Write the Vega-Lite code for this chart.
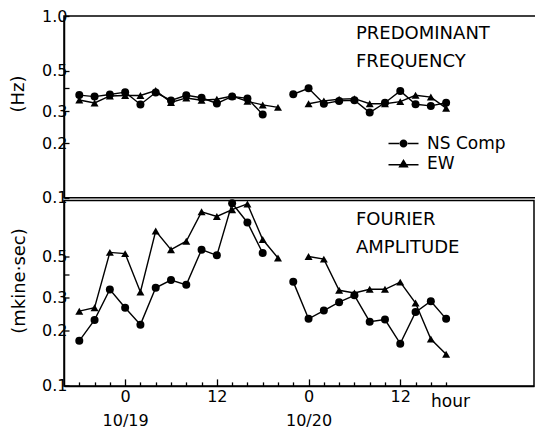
{
  "$schema": "https://vega.github.io/schema/vega-lite/v6.json",
  "padding": {"left": 8, "top": 7, "right": 0, "bottom": 0},
  "bounds": "flush",
  "spacing": 2.5,
  "background": "white",
  "config": {
    "font": "DejaVu Sans",
    "view": {"stroke": "black", "strokeWidth": 1.5},
    "axis": {"domainColor": "black", "domainWidth": 1.5, "tickColor": "black", "tickWidth": 1.3, "labelColor": "black", "titleColor": "black", "grid": false, "labelFontSize": 16, "titleFontSize": 18, "titleFontWeight": "normal"},
    "title": {"color": "black"},
    "legend": {"labelColor": "black"}
  },
  "resolve": {"scale": {"x": "independent", "y": "independent", "shape": "independent"}, "legend": {"shape": "independent"}},
  "datasets": {
    "d": [
      {"p": "F", "s": "NS Comp", "g": 1, "h": -6, "v": 0.367},
      {"p": "F", "s": "NS Comp", "g": 1, "h": -4, "v": 0.360},
      {"p": "F", "s": "NS Comp", "g": 1, "h": -2, "v": 0.370},
      {"p": "F", "s": "NS Comp", "g": 1, "h": 0, "v": 0.381},
      {"p": "F", "s": "NS Comp", "g": 1, "h": 2, "v": 0.326},
      {"p": "F", "s": "NS Comp", "g": 1, "h": 4, "v": 0.379},
      {"p": "F", "s": "NS Comp", "g": 1, "h": 6, "v": 0.343},
      {"p": "F", "s": "NS Comp", "g": 1, "h": 8, "v": 0.366},
      {"p": "F", "s": "NS Comp", "g": 1, "h": 10, "v": 0.355},
      {"p": "F", "s": "NS Comp", "g": 1, "h": 12, "v": 0.330},
      {"p": "F", "s": "NS Comp", "g": 1, "h": 14, "v": 0.361},
      {"p": "F", "s": "NS Comp", "g": 1, "h": 16, "v": 0.352},
      {"p": "F", "s": "NS Comp", "g": 1, "h": 18, "v": 0.287},
      {"p": "F", "s": "NS Comp", "g": 2, "h": 22, "v": 0.371},
      {"p": "F", "s": "NS Comp", "g": 2, "h": 24, "v": 0.400},
      {"p": "F", "s": "NS Comp", "g": 2, "h": 26, "v": 0.329},
      {"p": "F", "s": "NS Comp", "g": 2, "h": 28, "v": 0.341},
      {"p": "F", "s": "NS Comp", "g": 2, "h": 30, "v": 0.344},
      {"p": "F", "s": "NS Comp", "g": 2, "h": 32, "v": 0.294},
      {"p": "F", "s": "NS Comp", "g": 2, "h": 34, "v": 0.333},
      {"p": "F", "s": "NS Comp", "g": 2, "h": 36, "v": 0.387},
      {"p": "F", "s": "NS Comp", "g": 2, "h": 38, "v": 0.327},
      {"p": "F", "s": "NS Comp", "g": 2, "h": 40, "v": 0.320},
      {"p": "F", "s": "NS Comp", "g": 2, "h": 42, "v": 0.333},
      {"p": "F", "s": "EW", "g": 1, "h": -6, "v": 0.345},
      {"p": "F", "s": "EW", "g": 1, "h": -4, "v": 0.332},
      {"p": "F", "s": "EW", "g": 1, "h": -2, "v": 0.363},
      {"p": "F", "s": "EW", "g": 1, "h": 0, "v": 0.365},
      {"p": "F", "s": "EW", "g": 1, "h": 2, "v": 0.365},
      {"p": "F", "s": "EW", "g": 1, "h": 4, "v": 0.389},
      {"p": "F", "s": "EW", "g": 1, "h": 6, "v": 0.334},
      {"p": "F", "s": "EW", "g": 1, "h": 8, "v": 0.354},
      {"p": "F", "s": "EW", "g": 1, "h": 10, "v": 0.344},
      {"p": "F", "s": "EW", "g": 1, "h": 12, "v": 0.348},
      {"p": "F", "s": "EW", "g": 1, "h": 14, "v": 0.363},
      {"p": "F", "s": "EW", "g": 1, "h": 16, "v": 0.339},
      {"p": "F", "s": "EW", "g": 1, "h": 18, "v": 0.324},
      {"p": "F", "s": "EW", "g": 1, "h": 20, "v": 0.314},
      {"p": "F", "s": "EW", "g": 2, "h": 24, "v": 0.329},
      {"p": "F", "s": "EW", "g": 2, "h": 26, "v": 0.341},
      {"p": "F", "s": "EW", "g": 2, "h": 28, "v": 0.348},
      {"p": "F", "s": "EW", "g": 2, "h": 30, "v": 0.351},
      {"p": "F", "s": "EW", "g": 2, "h": 32, "v": 0.329},
      {"p": "F", "s": "EW", "g": 2, "h": 34, "v": 0.329},
      {"p": "F", "s": "EW", "g": 2, "h": 36, "v": 0.338},
      {"p": "F", "s": "EW", "g": 2, "h": 38, "v": 0.366},
      {"p": "F", "s": "EW", "g": 2, "h": 40, "v": 0.358},
      {"p": "F", "s": "EW", "g": 2, "h": 42, "v": 0.311},
      {"p": "A", "s": "NS Comp", "g": 1, "h": -6, "v": 0.175},
      {"p": "A", "s": "NS Comp", "g": 1, "h": -4, "v": 0.227},
      {"p": "A", "s": "NS Comp", "g": 1, "h": -2, "v": 0.331},
      {"p": "A", "s": "NS Comp", "g": 1, "h": 0, "v": 0.264},
      {"p": "A", "s": "NS Comp", "g": 1, "h": 2, "v": 0.214},
      {"p": "A", "s": "NS Comp", "g": 1, "h": 4, "v": 0.338},
      {"p": "A", "s": "NS Comp", "g": 1, "h": 6, "v": 0.372},
      {"p": "A", "s": "NS Comp", "g": 1, "h": 8, "v": 0.351},
      {"p": "A", "s": "NS Comp", "g": 1, "h": 10, "v": 0.543},
      {"p": "A", "s": "NS Comp", "g": 1, "h": 12, "v": 0.506},
      {"p": "A", "s": "NS Comp", "g": 1, "h": 14, "v": 0.967},
      {"p": "A", "s": "NS Comp", "g": 1, "h": 16, "v": 0.761},
      {"p": "A", "s": "NS Comp", "g": 1, "h": 18, "v": 0.521},
      {"p": "A", "s": "NS Comp", "g": 2, "h": 22, "v": 0.364},
      {"p": "A", "s": "NS Comp", "g": 2, "h": 24, "v": 0.230},
      {"p": "A", "s": "NS Comp", "g": 2, "h": 26, "v": 0.255},
      {"p": "A", "s": "NS Comp", "g": 2, "h": 28, "v": 0.283},
      {"p": "A", "s": "NS Comp", "g": 2, "h": 30, "v": 0.308},
      {"p": "A", "s": "NS Comp", "g": 2, "h": 32, "v": 0.222},
      {"p": "A", "s": "NS Comp", "g": 2, "h": 34, "v": 0.228},
      {"p": "A", "s": "NS Comp", "g": 2, "h": 36, "v": 0.169},
      {"p": "A", "s": "NS Comp", "g": 2, "h": 38, "v": 0.250},
      {"p": "A", "s": "NS Comp", "g": 2, "h": 40, "v": 0.286},
      {"p": "A", "s": "NS Comp", "g": 2, "h": 42, "v": 0.230},
      {"p": "A", "s": "EW", "g": 1, "h": -6, "v": 0.253},
      {"p": "A", "s": "EW", "g": 1, "h": -4, "v": 0.264},
      {"p": "A", "s": "EW", "g": 1, "h": -2, "v": 0.525},
      {"p": "A", "s": "EW", "g": 1, "h": 0, "v": 0.517},
      {"p": "A", "s": "EW", "g": 1, "h": 2, "v": 0.321},
      {"p": "A", "s": "EW", "g": 1, "h": 4, "v": 0.684},
      {"p": "A", "s": "EW", "g": 1, "h": 6, "v": 0.543},
      {"p": "A", "s": "EW", "g": 1, "h": 8, "v": 0.603},
      {"p": "A", "s": "EW", "g": 1, "h": 10, "v": 0.869},
      {"p": "A", "s": "EW", "g": 1, "h": 12, "v": 0.820},
      {"p": "A", "s": "EW", "g": 1, "h": 14, "v": 0.892},
      {"p": "A", "s": "EW", "g": 1, "h": 16, "v": 0.958},
      {"p": "A", "s": "EW", "g": 1, "h": 18, "v": 0.616},
      {"p": "A", "s": "EW", "g": 1, "h": 20, "v": 0.490},
      {"p": "A", "s": "EW", "g": 2, "h": 24, "v": 0.499},
      {"p": "A", "s": "EW", "g": 2, "h": 26, "v": 0.483},
      {"p": "A", "s": "EW", "g": 2, "h": 28, "v": 0.328},
      {"p": "A", "s": "EW", "g": 2, "h": 30, "v": 0.317},
      {"p": "A", "s": "EW", "g": 2, "h": 32, "v": 0.332},
      {"p": "A", "s": "EW", "g": 2, "h": 34, "v": 0.332},
      {"p": "A", "s": "EW", "g": 2, "h": 36, "v": 0.363},
      {"p": "A", "s": "EW", "g": 2, "h": 38, "v": 0.280},
      {"p": "A", "s": "EW", "g": 2, "h": 40, "v": 0.179},
      {"p": "A", "s": "EW", "g": 2, "h": 42, "v": 0.148}
    ]
  },
  "vconcat": [
    {
      "width": 472,
      "height": 181.7,
      "title": {"text": ["PREDOMINANT", "FREQUENCY"], "anchor": "start", "orient": "top", "frame": "group", "offset": -62.5, "dx": 292, "fontSize": 18, "fontWeight": "normal", "lineHeight": 28, "baseline": "top", "align": "left"},
      "data": {"name": "d"},
      "transform": [{"filter": "datum.p === 'F'"}],
      "encoding": {
        "x": {"field": "h", "type": "quantitative", "scale": {"domain": [-8, 53.76], "nice": false, "zero": false}, "axis": null},
        "y": {"field": "v", "type": "quantitative", "scale": {"type": "log", "domain": [0.1, 1], "nice": false},
          "axis": {"values": [0.1, 0.2, 0.3, 0.4, 0.5, 1], "labelExpr": "datum.value === 0.4 ? '' : format(datum.value, '.1f')", "tickSize": -5, "labelPadding": 2, "title": "(Hz)", "titleX": -45.5, "titleY": 77.5, "titleAngle": 270, "titleAlign": "center", "titleBaseline": "middle", "labelOverlap": false, "labelFlush": false}}
      },
      "resolve": {"scale": {"shape": "independent"}},
      "layer": [
        {"mark": {"type": "line", "color": "black", "strokeWidth": 1.4}, "encoding": {"detail": [{"field": "s"}, {"field": "g"}]}},
        {"mark": {"type": "point", "filled": true, "color": "black", "opacity": 1, "size": 64},
          "encoding": {"shape": {"field": "s", "type": "nominal", "scale": {"domain": ["NS Comp", "EW"], "range": ["circle", "triangle-up"]}, "legend": null}}},
        {"transform": [{"filter": "false"}],
          "mark": {"type": "point", "filled": true, "color": "black", "opacity": 1, "size": 64},
          "encoding": {"shape": {"field": "s", "type": "nominal",
            "scale": {"domain": ["NS Comp", "EW"], "range": ["M-1,0A1,1,0,1,0,1,0A1,1,0,1,0,-1,0Z M-3.75,-0.17H-0.9V0.17H-3.75Z M0.9,-0.17H3.75V0.17H0.9Z", "M0,-1.1L1.3,1L-1.3,1Z M-3.75,0.13H-0.8V0.47H-3.75Z M0.8,0.13H3.75V0.47H0.8Z"]},
            "legend": {"orient": "none", "legendX": 331, "legendY": 119, "title": null, "padding": 0, "labelFontSize": 17, "labelOffset": 15, "symbolSize": 64, "rowPadding": 2, "labelBaseline": "middle", "symbolFillColor": "black", "symbolOpacity": 1, "symbolStrokeWidth": 1.4}}}}
      ]
    },
    {
      "width": 470,
      "height": 185.4,
      "title": {"text": ["FOURIER", "AMPLITUDE"], "anchor": "start", "orient": "top", "frame": "group", "offset": -57.3, "dx": 292, "fontSize": 18, "fontWeight": "normal", "lineHeight": 28, "baseline": "top", "align": "left"},
      "data": {"name": "d"},
      "transform": [{"filter": "datum.p === 'A'"}],
      "encoding": {
        "x": {"field": "h", "type": "quantitative", "scale": {"domain": [-8, 53.5], "nice": false, "zero": false},
          "axis": {"values": [-6, -4, -2, 0, 2, 4, 6, 8, 10, 12, 14, 16, 18, 20, 22, 24, 26, 28, 30, 32, 34, 36, 38, 40, 42],
            "labelExpr": "datum.value === 0 ? ['0', '10/19'] : datum.value === 24 ? ['0', '10/20'] : (datum.value === 12 || datum.value === 36) ? '12' : ''",
            "tickSize": {"condition": {"test": "datum.value % 12 === 0", "value": -7}, "value": -4},
            "labelPadding": 10, "labelBaseline": "top", "labelLineHeight": 24, "labelOverlap": false, "labelFlush": false,
            "title": "hour", "titleX": 386, "titleY": 20.3, "titleBaseline": "alphabetic", "titleAlign": "center", "titleFontSize": 17, "titleAngle": 0}},
        "y": {"field": "v", "type": "quantitative", "scale": {"type": "log", "domain": [0.1, 1], "nice": false},
          "axis": {"values": [0.1, 0.2, 0.3, 0.4, 0.5], "labelExpr": "datum.value === 0.4 ? '' : format(datum.value, '.1f')", "tickSize": -5, "labelPadding": 2, "title": "(mkine·sec)", "titleX": -45, "titleY": 80, "titleAngle": 270, "titleAlign": "center", "titleBaseline": "middle", "labelOverlap": false, "labelFlush": false}}
      },
      "layer": [
        {"mark": {"type": "line", "color": "black", "strokeWidth": 1.4}, "encoding": {"detail": [{"field": "s"}, {"field": "g"}]}},
        {"mark": {"type": "point", "filled": true, "color": "black", "opacity": 1, "size": 64},
          "encoding": {"shape": {"field": "s", "type": "nominal", "scale": {"domain": ["NS Comp", "EW"], "range": ["circle", "triangle-up"]}, "legend": null}}}
      ]
    }
  ]
}
